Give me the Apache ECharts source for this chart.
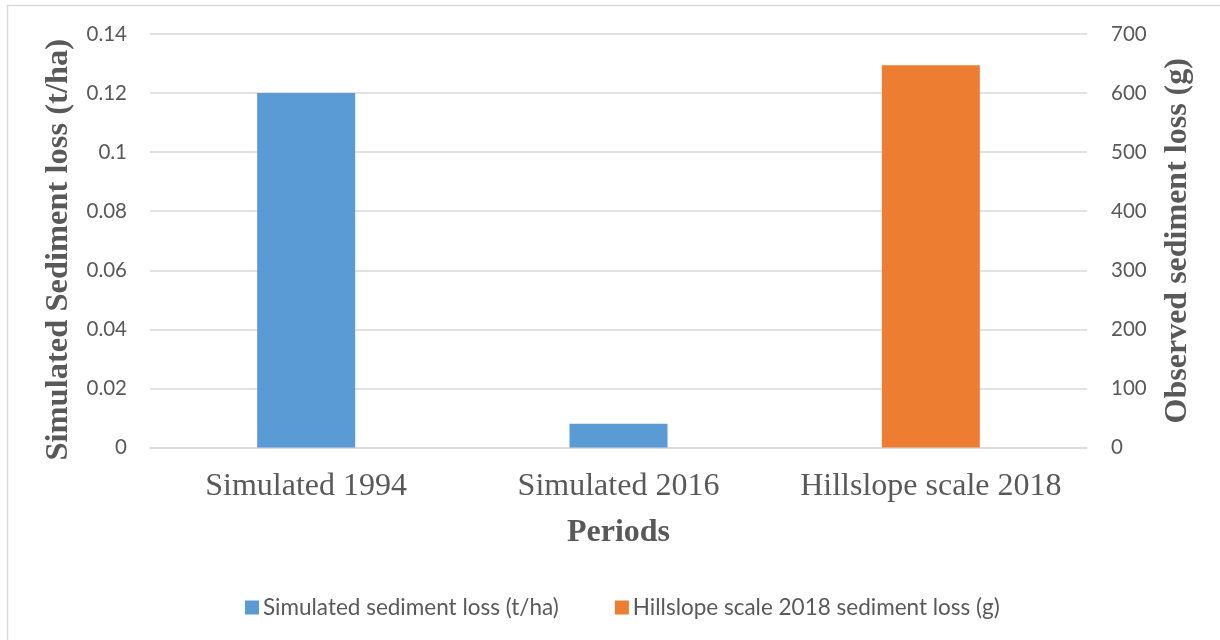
<!DOCTYPE html>
<html>
<head>
<meta charset="utf-8">
<script src="https://cdn.jsdelivr.net/npm/echarts@6/dist/echarts.min.js"></script>
<style>
  html, body { margin: 0; padding: 0; background: #fff; }
  #chart { width: 1220px; height: 640px; }
</style>
</head>
<body>
<div id="chart"></div>
<script>
// Periods on the category axis
const periods = ['Simulated 1994', 'Simulated 2016', 'Hillslope scale 2018'];
// Simulated sediment loss (t/ha), left axis
const simulatedLoss = [0.12, 0.008, '-'];
// Observed hillslope sediment loss (g), right axis
const observedLoss = ['-', '-', 647];

const simulatedName = 'Simulated sediment loss (t/ha)';
const observedName = 'Hillslope scale 2018 sediment loss (g)';

const textGray = '#595959';
const gridGray = '#d9d9d9';
const sansFont = 'Lato, "Open Sans", sans-serif';
const serifFont = '"Liberation Serif", "DejaVu Serif", serif';

const chart = echarts.init(document.getElementById('chart'), null, { renderer: 'canvas' });

chart.setOption({
  animation: false,
  backgroundColor: '#ffffff',
  graphic: [
    { type: 'line', shape: { x1: 7, y1: 5.5, x2: 1220, y2: 5.5 }, style: { stroke: gridGray, lineWidth: 1.5 } },
    { type: 'line', shape: { x1: 7.5, y1: 5, x2: 7.5, y2: 640 }, style: { stroke: gridGray, lineWidth: 1.5 } }
  ],
  grid: { left: 150, right: 133, top: 34, bottom: 192.5, containLabel: false },
  legend: {
    left: 245,
    top: 596,
    padding: 0,
    itemWidth: 14,
    itemHeight: 14,
    itemGap: 56,
    icon: 'rect',
    textStyle: { fontFamily: sansFont, fontSize: 22.5, color: textGray, padding: [0, 0, 0, -1] },
    data: [simulatedName, observedName]
  },
  xAxis: {
    type: 'category',
    data: periods,
    axisLine: { lineStyle: { color: gridGray, width: 1.5 } },
    axisTick: { show: false },
    axisLabel: { fontFamily: serifFont, fontSize: 32, color: textGray, margin: 23, interval: 0 },
    name: 'Periods',
    nameLocation: 'middle',
    nameGap: 69,
    nameTextStyle: { fontFamily: serifFont, fontSize: 32, fontWeight: 'bold', color: textGray }
  },
  yAxis: [
    {
      type: 'value',
      min: 0,
      max: 0.14,
      interval: 0.02,
      position: 'left',
      axisLine: { show: false },
      axisTick: { show: false },
      splitLine: { lineStyle: { color: gridGray, width: 1.5 } },
      axisLabel: { fontFamily: sansFont, fontSize: 20.5, color: textGray, margin: 23 },
      name: 'Simulated Sediment loss (t/ha)',
      nameLocation: 'middle',
      nameRotate: 90,
      nameGap: 74,
      nameTextStyle: { fontFamily: serifFont, fontSize: 32.5, fontWeight: 'bold', color: textGray, padding: [0, 18, 0, 0] }
    },
    {
      type: 'value',
      min: 0,
      max: 700,
      interval: 100,
      position: 'right',
      axisLine: { show: false },
      axisTick: { show: false },
      splitLine: { show: false },
      axisLabel: { fontFamily: sansFont, fontSize: 20.5, color: textGray, margin: 24 },
      name: 'Observed sediment loss (g)',
      nameLocation: 'middle',
      nameRotate: 90,
      nameGap: 75,
      nameTextStyle: { fontFamily: serifFont, fontSize: 32, fontWeight: 'bold', color: textGray }
    }
  ],
  series: [
    {
      name: simulatedName,
      type: 'bar',
      yAxisIndex: 0,
      data: simulatedLoss,
      barWidth: 98,
      barGap: '-100%',
      itemStyle: { color: '#5b9bd5' }
    },
    {
      name: observedName,
      type: 'bar',
      yAxisIndex: 1,
      data: observedLoss,
      barWidth: 98,
      barGap: '-100%',
      itemStyle: { color: '#ed7d31' }
    }
  ]
});
</script>
</body>
</html>
